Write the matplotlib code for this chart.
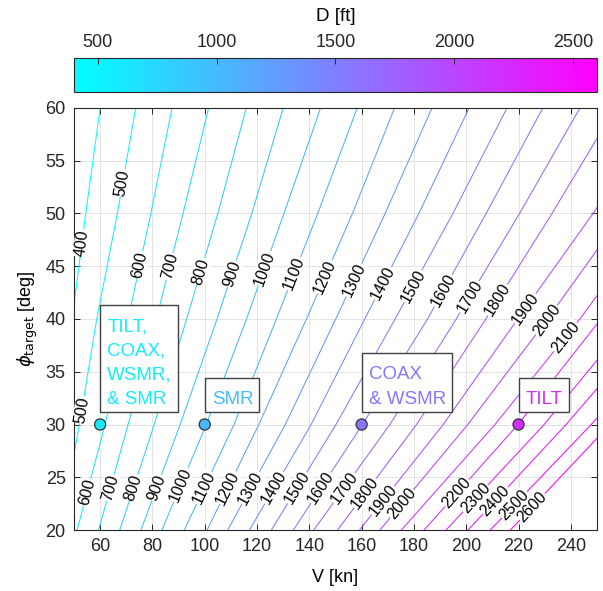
import matplotlib
matplotlib.use('Agg')
import matplotlib.pyplot as plt
import numpy as np
from matplotlib import colors, cm
from matplotlib.patches import Rectangle

plt.rcParams['font.family'] = ['Liberation Sans', 'DejaVu Sans']
plt.rcParams['mathtext.fontset'] = 'dejavusans'

# contour levels of turn distance D [ft]
levels = [400, 500, 600, 700, 800, 900, 1000, 1100, 1200, 1300, 1400, 1500,
          1600, 1700, 1800, 1900, 2000, 2100, 2200, 2300, 2400, 2500, 2600]

# bank angles [deg] at which the speed of every contour was read
phi_rows = [20, 30, 40, 50, 60]

# speed V [kn] of each contour level at the bank angles above
V_phi20 = [37.0, 44.5, 51.2, 59.4, 67.5, 75.6, 83.6, 92.2, 100.9, 108.8, 117.1, 125.5,
           133.9, 141.7, 150.8, 159.2, 167.0, 175.2, 183.9, 192.3, 200.7, 209.2, 216.9]
V_phi30 = [45.0, 52.1, 61.9, 70.7, 80.7, 90.6, 100.6, 111.2, 120.7, 130.8, 140.7, 150.2,
           160.3, 170.8, 181.0, 191.2, 200.6, 211.0, 219.8, 229.8, 238.2, 247.8, 255.0]
V_phi40 = [49.3, 58.7, 70.7, 81.5, 93.1, 104.7, 116.0, 127.4, 138.9, 150.1, 161.2, 172.8,
           185.2, 196.2, 207.5, 219.7, 231.1, 243.5, 251.5, 263.0, 273.0, 284.0, 292.0]
V_phi50 = [54.5, 66.6, 79.4, 91.7, 105.0, 118.0, 130.3, 143.2, 156.5, 169.0, 181.9, 194.9,
           207.6, 220.4, 232.8, 248.5, 260.0, 273.0, 282.0, 295.0, 306.0, 318.0, 327.0]
V_phi60 = [60.0, 73.6, 87.5, 101.5, 115.9, 130.0, 144.3, 158.3, 172.6, 186.9, 201.1, 215.6,
           229.3, 243.5, 257.0, 275.0, 289.0, 302.0, 312.0, 326.0, 338.0, 350.0, 361.0]

# bank angle where the inline labels sit on each contour (nan = no label)
nan = np.nan
label_phi_upper = [47.2, 52.9, 45.1, 45.0, 44.5, 44.3, 44.8, 44.3, 44.0, 43.7, 43.4, 43.1,
                   42.7, 42.1, 41.8, 41.0, 39.9, 38.3, nan, nan, nan, nan, nan]
label_phi_lower = [nan, 31.4, 23.6, 24.0, 24.0, 24.0, 24.3, 24.0, 24.0, 24.0, 24.0, 24.0,
                   24.0, 24.0, 23.5, 22.8, 22.5, nan, 23.5, 23.0, 22.8, 22.4, 22.2]

# design points of each concept
aircraft_text = ['TILT,\nCOAX,\nWSMR,\n& SMR', 'SMR', 'COAX\n& WSMR', 'TILT']
aircraft_V = [60, 100, 160, 220]
aircraft_phi = [30, 30, 30, 30]
aircraft_D = [580, 1000, 1600, 2200]

cbar_ticks = [500, 1000, 1500, 2000, 2500]

norm = colors.Normalize(vmin=min(levels), vmax=max(levels))
cmap = plt.get_cmap('cool')
edge = '#262626'
fs = 13

fig = plt.figure(figsize=(6.03, 5.91), dpi=100)
ax = fig.add_axes([0.1227, 0.1032, 0.8673, 0.7141])
cax = fig.add_axes([0.1227, 0.845, 0.8673, 0.057])

ax.set_xlim(50, 250)
ax.set_ylim(20, 60)
ax.set_xticks(np.arange(60, 241, 20))
ax.set_yticks(np.arange(20, 61, 5))
ax.grid(True, color='#e3e3e3', lw=0.7)
ax.set_axisbelow(True)
ax.tick_params(direction='in', top=True, right=True, length=4, width=0.7, pad=6,
               colors=edge, labelsize=fs, labelcolor='#262626')
for s in ax.spines.values():
    s.set_color(edge)
    s.set_linewidth(0.8)

speeds = np.array([V_phi20, V_phi30, V_phi40, V_phi50, V_phi60])


def put_label(lev, v_line, phi):
    v = np.interp(phi, phi_rows, v_line)
    p0 = ax.transData.transform((np.interp(phi - 1, phi_rows, v_line), phi - 1))
    p1 = ax.transData.transform((np.interp(phi + 1, phi_rows, v_line), phi + 1))
    ang = np.degrees(np.arctan2(p1[1] - p0[1], p1[0] - p0[0]))
    ax.text(v, phi, str(lev), rotation=ang, rotation_mode='anchor',
            ha='center', va='center', fontsize=11.5, color='black', zorder=3,
            bbox=dict(fc='white', ec='none', pad=0.3))


for i, lev in enumerate(levels):
    v_line = speeds[:, i]
    ax.plot(v_line, phi_rows, color=cmap(norm(lev)), lw=0.75, zorder=2)
    for phi in (label_phi_upper[i], label_phi_lower[i]):
        if not np.isnan(phi):
            put_label(lev, v_line, phi)

ax.scatter(aircraft_V, aircraft_phi, c=aircraft_D, cmap=cmap, norm=norm, s=64,
           edgecolors='#333333', linewidths=0.9, zorder=5)

# px -> pt at 100 dpi
px = 72 / fig.dpi
notes = []
for txt, v, phi, d in zip(aircraft_text, aircraft_V, aircraft_phi, aircraft_D):
    t = ax.annotate(txt, xy=(v, phi), xytext=(7 * px, 17 * px), textcoords='offset points',
                    ha='left', va='bottom', fontsize=13.5, linespacing=1.55,
                    color=cmap(norm(d)), zorder=7)
    notes.append(t)

ax.set_xlabel('V [kn]', fontsize=fs, labelpad=10)
ax.set_ylabel(r'$\phi_{\rm target}$ [deg]', fontsize=fs, labelpad=4)

cb = fig.colorbar(cm.ScalarMappable(norm=norm, cmap=cmap), cax=cax,
                  orientation='horizontal', ticks=cbar_ticks)
cax.xaxis.set_ticks_position('top')
cax.xaxis.set_label_position('top')
cax.tick_params(direction='in', length=4, width=0.7, pad=5, colors=edge,
                labelsize=fs, labelcolor='#262626')
cb.outline.set_edgecolor(edge)
cb.outline.set_linewidth(0.8)
cb.set_label('D [ft]', fontsize=13.5, labelpad=9)

# white boxes behind the notes, with more room above the text than below
fig.canvas.draw()
renderer = fig.canvas.get_renderer()
inv = ax.transData.inverted()
for t in notes:
    bb = t.get_window_extent(renderer)
    x0, y0 = inv.transform((bb.x0 - 7, bb.y0 - 4))
    x1, y1 = inv.transform((bb.x1 + 6, bb.y1 + 13))
    ax.add_patch(Rectangle((x0, y0), x1 - x0, y1 - y0, fc='white', ec='#404040',
                           lw=1.0, zorder=6))

fig.savefig('out.png', dpi=100)
plt.close(fig)
